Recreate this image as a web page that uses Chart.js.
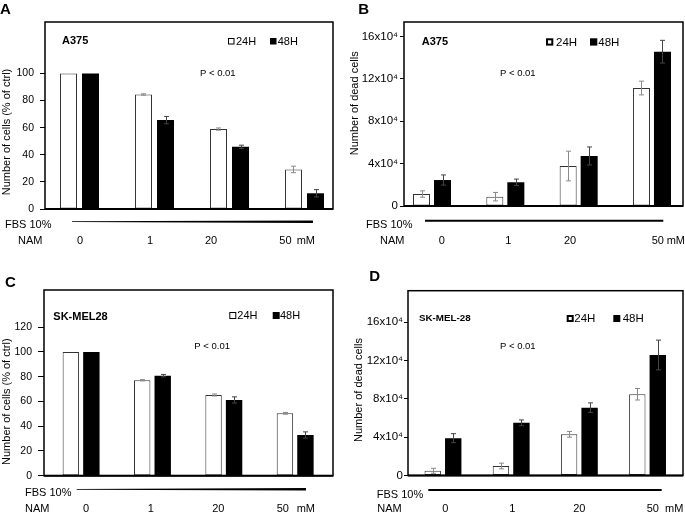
<!DOCTYPE html>
<html><head><meta charset="utf-8">
<script src="https://cdn.jsdelivr.net/npm/chart.js@4.4.1/dist/chart.umd.min.js"></script>
<style>
html,body{margin:0;padding:0;background:#fff;}
#wrap{position:relative;width:685px;height:513px;overflow:hidden;background:#fff;}
canvas{position:absolute;}
</style></head><body>
<div id="wrap">
<canvas id="cA" width="342" height="256" style="left:0;top:0"></canvas>
<canvas id="cB" width="343" height="256" style="left:342px;top:0"></canvas>
<canvas id="cC" width="342" height="257" style="left:0;top:256px"></canvas>
<canvas id="cD" width="343" height="257" style="left:342px;top:256px"></canvas>
</div>
<script>
// ---------- data ----------
const groupIdx = [0, 1, 2, 3];
const namLabels = ['0', '1', '20', '50'];
const namUnit = 'mM';
const seriesNames = ['24H', '48H'];

const pctTicksA = [0, 20, 40, 60, 80, 100];
const pctTicksC = [0, 20, 40, 60, 80, 100, 120];
const deadTicks = [0, 40000, 80000, 120000, 160000];
const deadTickLabels = ['0', '4x10⁴', '8x10⁴', '12x10⁴', '16x10⁴'];

// Panel A: A375, % of ctrl
const a24 = [100, 84.5, 59, 29.2];
const a24err = [0, 0.5, 0.8, 2.4];
const a48 = [100, 65.6, 45.9, 11.6];
const a48err = [0, 2.7, 1.2, 2.7];
// Panel B: A375, dead cells
const b24 = [11300, 8800, 37700, 111300];
const b24err = [3000, 4000, 14000, 6500];
const b48 = [24500, 22400, 47200, 145600];
const b48err = [4800, 3000, 8500, 10700];
// Panel C: SK-MEL28, % of ctrl
const c24 = [100, 77.1, 65.2, 50.4];
const c24err = [0, 0.5, 0.8, 0.7];
const c48 = [100, 80.8, 61.2, 32.9];
const c48err = [0, 1.0, 2.5, 2.5];
// Panel D: SK-MEL-28, dead cells
const d24 = [4900, 9900, 43000, 84800];
const d24err = [2600, 3000, 3000, 6000];
const d48 = [39000, 55000, 70800, 125800];
const d48err = [4700, 3000, 5000, 15500];

// ---------- drawing ----------
const FONT = '"Liberation Sans", Arial, Helvetica, sans-serif';
Chart.defaults.font.family = FONT;
Chart.defaults.color = '#000';

function txt(ctx, s, x, y, size, bold, align, base) {
  ctx.save();
  ctx.font = (bold ? 'bold ' : '') + size + 'px ' + FONT;
  ctx.fillStyle = '#000';
  ctx.textAlign = align || 'left';
  ctx.textBaseline = base || 'alphabetic';
  ctx.fillText(s, x, y);
  ctx.restore();
}

const overlay = {
  id: 'overlay',
  afterDatasetsDraw(chart) {
    const ctx = chart.ctx, ys = chart.scales.y;
    chart.data.datasets.forEach((ds, di) => {
      const meta = chart.getDatasetMeta(di);
      ctx.save();
      ctx.strokeStyle = ds.errColor;
      ctx.lineWidth = 1;
      meta.data.forEach((bar, i) => {
        const e = ds.errors[i];
        if (!e) return;
        const v = ds.data[i].y;
        const yt = ys.getPixelForValue(v + e), yb = ys.getPixelForValue(v - e);
        const x = Math.round(bar.x) + 0.5;
        ctx.beginPath();
        ctx.moveTo(x, yt); ctx.lineTo(x, yb);
        ctx.moveTo(x - 2.5, yt); ctx.lineTo(x + 2.5, yt);
        ctx.moveTo(x - 2.5, yb); ctx.lineTo(x + 2.5, yb);
        ctx.stroke();
      });
      ctx.restore();
    });
  },
  afterDraw(chart, args, o) {
    const ctx = chart.ctx, ca = chart.chartArea;
    // frame
    ctx.save();
    ctx.strokeStyle = '#000';
    ctx.lineWidth = 1.5;
    ctx.strokeRect(ca.left, ca.top, ca.right - ca.left, ca.bottom - ca.top);
    ctx.lineWidth = 2;
    ctx.beginPath(); ctx.moveTo(ca.left, ca.bottom); ctx.lineTo(ca.right, ca.bottom); ctx.stroke();
    ctx.restore();
    // panel letter, cell line, p-value
    txt(ctx, o.letter[0], o.letter[1], o.letter[2], 15, true);
    txt(ctx, o.cell[0], o.cell[1], o.cell[2], o.cell[3], true);
    txt(ctx, 'P < 0.01', o.p[0], o.p[1], 9.5, false);
    // legend
    const L = o.legend;
    ctx.save();
    ctx.strokeStyle = '#000';
    ctx.lineWidth = L.lw;
    const h = L.lw / 2;
    ctx.strokeRect(L.x1 + h, L.y + h, L.s - L.lw, L.s - L.lw);
    ctx.fillStyle = '#000';
    ctx.fillRect(L.x2, L.y, L.s, L.s);
    ctx.restore();
    txt(ctx, seriesNames[0], L.t1, L.base, L.size, false);
    txt(ctx, seriesNames[1], L.t2, L.base, L.size, false);
    // y title
    ctx.save();
    ctx.translate(o.ytitle[1], o.ytitle[2]);
    ctx.rotate(-Math.PI / 2);
    txt(ctx, o.ytitle[0], 0, 0, 11, false, 'center', 'middle');
    ctx.restore();
    // FBS line
    const F = o.fbs;
    txt(ctx, 'FBS 10%', F.tx, F.base, 11, false);
    ctx.save();
    ctx.fillStyle = '#000';
    ctx.beginPath();
    ctx.moveTo(F.x1, F.y - F.w1 / 2); ctx.lineTo(F.x2, F.y - F.w2 / 2);
    ctx.lineTo(F.x2, F.y + F.w2 / 2); ctx.lineTo(F.x1, F.y + F.w1 / 2);
    ctx.closePath(); ctx.fill();
    ctx.restore();
    // NAM row
    const N = o.nam;
    txt(ctx, 'NAM', N.tx, N.base, 11, false);
    namLabels.forEach((s, i) => {
      if (i < 3) txt(ctx, s, N.pos[i], N.base, 11, false, 'center');
      else txt(ctx, s, N.pos[i], N.base, 11, false, 'left');
    });
    txt(ctx, namUnit, N.unit, N.base, 11, false, 'left');
  }
};

function makePanel(id, cfg) {
  const toXY = arr => arr.map((v, i) => ({ x: groupIdx[i], y: v }));
  new Chart(document.getElementById(id), {
    type: 'bar',
    data: {
      datasets: [
        { label: seriesNames[0], data: toXY(cfg.s1), errors: cfg.e1, errColor: '#8a8a8a',
          backgroundColor: '#fff', borderColor: '#333', borderWidth: 1, borderSkipped: false,
          categoryPercentage: cfg.cat, barPercentage: cfg.barp },
        { label: seriesNames[1], data: toXY(cfg.s2), errors: cfg.e2, errColor: '#444',
          backgroundColor: '#000', borderColor: '#000', borderWidth: 0,
          categoryPercentage: cfg.cat, barPercentage: cfg.barp }
      ]
    },
    options: {
      responsive: false, maintainAspectRatio: false, animation: false,
      layout: { padding: cfg.pad },
      plugins: { legend: { display: false }, tooltip: { enabled: false }, overlay: cfg.ov },
      scales: {
        x: { type: 'linear', display: false, min: cfg.xmin, max: cfg.xmax, offset: false },
        y: {
          min: 0, max: cfg.ymax,
          afterFit: s => { s.width = cfg.yw; },
          afterBuildTicks: s => { s.ticks = cfg.ticks.map(v => ({ value: v })); },
          ticks: {
            font: { size: cfg.tsize }, color: '#000', padding: cfg.tpad,
            callback: (v) => { const k = cfg.ticks.indexOf(v); return cfg.tlabels ? cfg.tlabels[k] : String(v); }
          },
          grid: { drawOnChartArea: false, drawTicks: true, tickLength: cfg.tl, color: '#000', lineWidth: 1 },
          border: { display: false }
        }
      }
    },
    plugins: [overlay]
  });
}

makePanel('cA', {
  s1: a24, e1: a24err, s2: a48, e2: a48err,
  pad: { left: 0, top: 22, right: 9, bottom: 47 }, yw: 45,
  ymax: 138, ticks: pctTicksA, tsize: 10.5, tpad: 6, tl: 5,
  xmin: -0.46, xmax: 3.38, cat: 0.587, barp: 0.773,
  ov: {
    letter: ['A', 0, 13.5], cell: ['A375', 62, 43.5, 11], p: [200, 76],
    legend: { x1: 228, x2: 270, y: 38, s: 6.5, lw: 1, t1: 236, t2: 277.7, base: 45, size: 11 },
    ytitle: ['Number of cells (% of ctrl)', 7, 132],
    fbs: { tx: 5, base: 228.3, x1: 72, x2: 313, y: 221.7, w1: 0.8, w2: 2.4 },
    nam: { tx: 18, base: 244.3, pos: [80, 150, 211, 279.3], unit: 296.7 }
  }
});

makePanel('cB', {
  s1: b24, e1: b24err, s2: b48, e2: b48err,
  pad: { left: 0, top: 22, right: 2, bottom: 50 }, yw: 62,
  ymax: 173600, ticks: deadTicks, tlabels: deadTickLabels, tsize: 11.5, tpad: 2, tl: 4,
  xmin: -0.382, xmax: 3.423, cat: 0.573, barp: 0.81,
  ov: {
    letter: ['B', 16.3, 13.5], cell: ['A375', 79.7, 45, 11], p: [158, 75.7],
    legend: { x1: 204, x2: 248, y: 38.3, s: 7.3, lw: 2, t1: 214, t2: 256.3, base: 45.7, size: 11.5 },
    ytitle: ['Number of dead cells', 13, 103.3],
    fbs: { tx: 24, base: 228, x1: 83, x2: 321.3, y: 220.7, w1: 2, w2: 2 },
    nam: { tx: 38, base: 244.3, pos: [99.7, 166.3, 228, 309.7], unit: 324.7 }
  }
});

makePanel('cC', {
  s1: c24, e1: c24err, s2: c48, e2: c48err,
  pad: { left: 0, top: 34, right: 9, bottom: 37.3 }, yw: 44,
  ymax: 150, ticks: pctTicksC, tsize: 10.5, tpad: 6, tl: 6,
  xmin: -0.52, xmax: 3.53, cat: 0.575, barp: 0.80,
  ov: {
    letter: ['C', 5, 30.7], cell: ['SK-MEL28', 53.3, 64, 11], p: [194.3, 93],
    legend: { x1: 229.3, x2: 272.7, y: 56, s: 7, lw: 1, t1: 237.3, t2: 280, base: 63.3, size: 11 },
    ytitle: ['Number of cells (% of ctrl)', 6.7, 145.7],
    fbs: { tx: 25, base: 239.7, x1: 76.7, x2: 306, y: 233.3, w1: 0.8, w2: 2.4 },
    nam: { tx: 25, base: 256.3, pos: [86, 150.7, 218.3, 276.7], unit: 296.7 }
  }
});

makePanel('cD', {
  s1: d24, e1: d24err, s2: d48, e2: d48err,
  pad: { left: 0, top: 34.7, right: 2, bottom: 37.5 }, yw: 66,
  ymax: 192900, ticks: deadTicks, tlabels: deadTickLabels, tsize: 11.5, tpad: 1, tl: 4,
  xmin: -0.513, xmax: 3.52, cat: 0.601, barp: 0.80,
  ov: {
    letter: ['D', 27.3, 25], cell: ['SK-MEL-28', 77, 64.7, 9.8], p: [158, 93],
    legend: { x1: 224.7, x2: 271.3, y: 59, s: 7, lw: 2, t1: 232.3, t2: 280.7, base: 65.7, size: 11.5 },
    ytitle: ['Number of dead cells', 17, 134],
    fbs: { tx: 34.7, base: 242.3, x1: 86.3, x2: 319.7, y: 234, w1: 2, w2: 2 },
    nam: { tx: 35.3, base: 256.3, pos: [103.3, 170.3, 237.3, 304.7], unit: 323 }
  }
});
</script>
</body></html>
